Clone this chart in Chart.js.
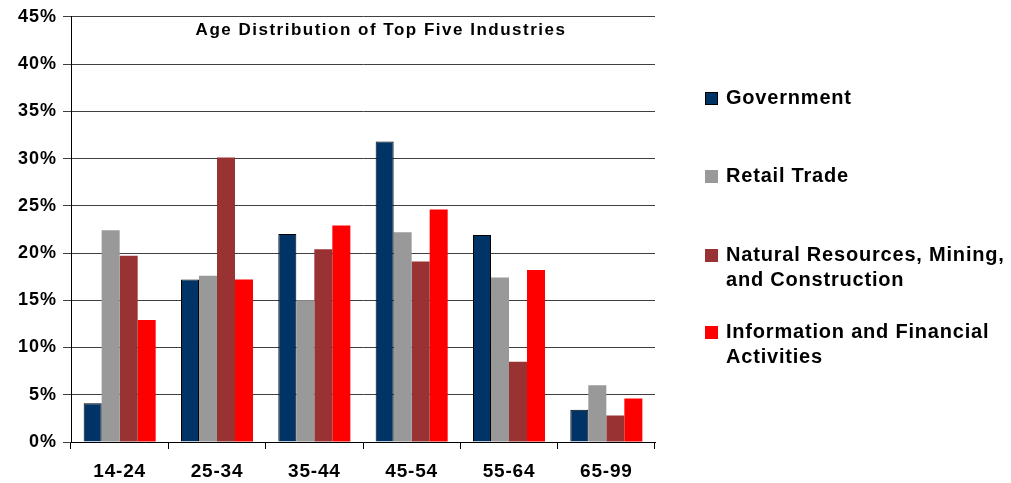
<!DOCTYPE html>
<html>
<head>
<meta charset="utf-8">
<title>Age Distribution of Top Five Industries</title>
<script src="https://cdn.jsdelivr.net/npm/chart.js@4/dist/chart.umd.min.js"></script>
<style>
  html, body { margin: 0; padding: 0; background: #fff; }
  canvas { display: block; }
</style>
</head>
<body>
<canvas id="chart" width="1011" height="483"></canvas>
<script>
// --- DATA ---
const ageGroups = ['14-24', '25-34', '35-44', '45-54', '55-64', '65-99'];
const government = [4.1, 17.2, 22.0, 31.8, 21.9, 3.4];
const retailTrade = [22.4, 17.6, 15.0, 22.2, 17.4, 6.0];
const naturalResources = [19.7, 30.1, 20.4, 19.1, 8.5, 2.8];
const infoFinancial = [12.9, 17.2, 22.9, 24.6, 18.2, 4.6];
const yTicks = [0, 5, 10, 15, 20, 25, 30, 35, 40, 45];

const chartTitle = 'Age Distribution of Top Five Industries';
const FONT = '"Liberation Sans", Arial, sans-serif';

// the original text is drawn a bit wide, so each axis gets its own letter spacing
const axisSpacing = { x: '0.8px', y: '1px' };

const decorPlugin = {
    id: 'decor',
    afterUpdate(chart) {
        Object.values(chart.scales).forEach(scale => {
            if (scale._spaced) return;
            const orig = scale.drawLabels;
            scale.drawLabels = function (area) {
                const ctx = this.ctx;
                const prev = ctx.letterSpacing;
                ctx.letterSpacing = axisSpacing[this.id] || '0px';
                orig.call(this, area);
                ctx.letterSpacing = prev;
            };
            scale._spaced = true;
        });
    },
    afterDraw(chart) {
        const ctx = chart.ctx;
        const area = chart.chartArea;
        ctx.save();
        ctx.fillStyle = '#000';
        ctx.textBaseline = 'middle';

        // title inside the plot
        ctx.letterSpacing = '1.5px';
        ctx.font = 'bold 17px ' + FONT;
        ctx.textAlign = 'center';
        ctx.fillText(chartTitle, (area.left + area.right) / 2 + 18, 30);

        // legend
        ctx.letterSpacing = '0.8px';
        ctx.font = 'bold 20px ' + FONT;
        ctx.textAlign = 'left';
        const rows = [98, 176, 255, 332];
        chart.data.datasets.forEach((ds, i) => {
            const y = rows[i];
            ctx.fillStyle = ds.backgroundColor;
            ctx.fillRect(705, y - 6, 13, 13);
            if (ds.borderWidth) {
                ctx.strokeStyle = '#000';
                ctx.lineWidth = 1;
                ctx.strokeRect(705.5, y - 5.5, 12, 12);
            }
            ctx.fillStyle = '#000';
            ds.legendLines.forEach((line, j) => {
                ctx.fillText(line, 726, y + j * 25.5);
            });
        });
        ctx.restore();
    }
};

new Chart(document.getElementById('chart'), {
    type: 'bar',
    data: {
        labels: ageGroups,
        datasets: [
            { label: 'Government', legendLines: ['Government'], data: government,
              backgroundColor: '#003366', borderColor: '#000', borderWidth: 1 },
            { label: 'Retail Trade', legendLines: ['Retail Trade'], data: retailTrade,
              backgroundColor: '#999999', borderWidth: 0 },
            { label: 'Natural Resources, Mining, and Construction',
              legendLines: ['Natural Resources, Mining,', 'and Construction'], data: naturalResources,
              backgroundColor: '#993333', borderWidth: 0 },
            { label: 'Information and Financial Activities',
              legendLines: ['Information and Financial', 'Activities'], data: infoFinancial,
              backgroundColor: '#FF0000', borderWidth: 0 }
        ]
    },
    options: {
        responsive: false,
        animation: false,
        devicePixelRatio: 1,
        layout: { padding: { top: 15, right: 356, left: 0, bottom: 0 } },
        datasets: { bar: { categoryPercentage: 0.74, barPercentage: 1.0 } },
        plugins: {
            legend: { display: false },
            title: { display: false },
            tooltip: { enabled: false }
        },
        scales: {
            x: {
                grid: { display: true, drawOnChartArea: false, drawTicks: true, tickLength: 7, color: '#000' },
                border: { display: true, color: '#000', width: 1 },
                ticks: { color: '#000', padding: 11, font: { family: FONT, size: 19, weight: 'bold' } },
                afterFit(scale) { scale.height = 41; }
            },
            y: {
                min: 0,
                max: 45,
                afterBuildTicks(scale) { scale.ticks = yTicks.map(v => ({ value: v })); },
                grid: { color: '#404040', lineWidth: 1, tickLength: 8 },
                border: { display: true, color: '#000', width: 1 },
                ticks: {
                    color: '#000',
                    padding: 6,
                    font: { family: FONT, size: 18, weight: 'bold' },
                    callback: v => v + '%'
                },
                afterFit(scale) { scale.width = 71; }
            }
        }
    },
    plugins: [decorPlugin]
});
</script>
</body>
</html>
